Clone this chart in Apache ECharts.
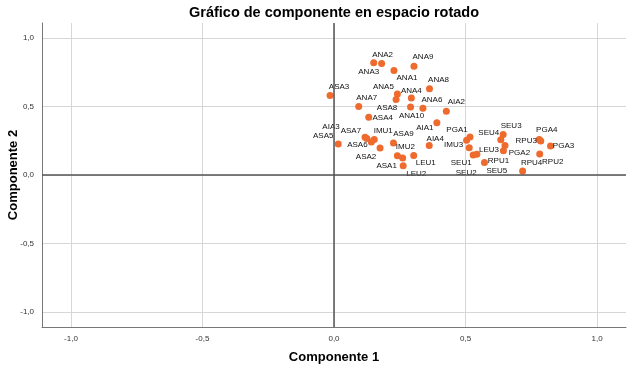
<!DOCTYPE html>
<html>
<head>
<meta charset="utf-8">
<script src="https://cdn.jsdelivr.net/npm/echarts@6/dist/echarts.min.js"></script>
<style>
  html, body { margin: 0; padding: 0; background: #fff; }
  #chart { width: 635px; height: 370px; }
</style>
</head>
<body>
<div id="chart"></div>
<script>
// variables y cargas en los dos componentes rotados
const names = [
  'ANA3', 'ANA2', 'ANA9', 'ANA1', 'ANA8', 'ASA3', 'ANA5', 'ASA8', 'ANA4', 'ANA7',
  'ANA10', 'ANA6', 'AIA2', 'ASA4', 'AIA1',
  'ASA5', 'AIA3', 'ASA7', 'IMU1', 'ASA6', 'ASA2', 'ASA9', 'AIA4', 'IMU2', 'ASA1',
  'LEU1', 'LEU2',
  'PGA1', 'IMU3', 'SEU1', 'SEU2', 'SEU5', 'RPU1', 'SEU3', 'SEU4', 'LEU3', 'PGA2',
  'RPU3', 'PGA4', 'PGA3', 'RPU2', 'RPU4'
];
const comp1 = [
  0.151, 0.181, 0.304, 0.228, 0.363, -0.015, 0.241, 0.236, 0.294, 0.094,
  0.291, 0.338, 0.427, 0.132, 0.391,
  0.016, 0.118, 0.125, 0.153, 0.142, 0.175, 0.226, 0.362, 0.241, 0.261,
  0.303, 0.263,
  0.517, 0.504, 0.514, 0.529, 0.543, 0.572, 0.643, 0.634, 0.650, 0.644,
  0.780, 0.786, 0.823, 0.782, 0.717
];
const comp2 = [
  0.819, 0.814, 0.795, 0.764, 0.629, 0.580, 0.592, 0.551, 0.562, 0.501,
  0.496, 0.488, 0.466, 0.422, 0.382,
  0.227, 0.275, 0.266, 0.259, 0.241, 0.198, 0.233, 0.215, 0.140, 0.125,
  0.143, 0.067,
  0.278, 0.254, 0.199, 0.146, 0.152, 0.092, 0.295, 0.257, 0.215, 0.178,
  0.259, 0.249, 0.212, 0.154, 0.029
];
const tickValues = [-1.0, -0.5, 0.0, 0.5, 1.0];
const tickLabels = ['-1,0', '-0,5', '0,0', '0,5', '1,0'];

// desplazamiento de cada etiqueta respecto a su punto (px)
const labelOffsets = [
  [-5, 9], [1, -9], [9, -9], [13, 7], [9, -9], [9, -9], [-14, -7], [-9, 8], [0, -7], [8, -9],
  [1, 9], [9, -8], [10, -9], [14, 1], [-12, 5],
  [-15, -8], [-34, -11], [-16, -8], [9, -9], [-14, 3], [-14, 9], [10, -9], [6, -7], [8, -9], [-16, 8],
  [12, 7], [13, 8],
  [-13, -7], [-13, 5], [-8, 15], [-7, 18], [20, 17], [14, -2], [8, -9], [-12, -7], [-16, 4], [16, 2],
  [-13, 1], [6, -11], [13, 0], [13, 8], [9, -8]
];

const tickText = v => {
  const i = tickValues.findIndex(t => Math.abs(t - v) < 1e-6);
  return i >= 0 ? tickLabels[i] : '';
};

const font = '"Liberation Sans", Arial, sans-serif';
const chart = echarts.init(document.getElementById('chart'));

const points = names.map((n, i) => ({
  name: n,
  value: [comp1[i], comp2[i]],
  label: { offset: labelOffsets[i] }
}));

const axisCommon = {
  type: 'value',
  min: -1.11,
  max: 1.11,
  splitNumber: 5,
  nameLocation: 'middle',
  nameMoveOverlap: false,
  nameTextStyle: { color: '#000', fontSize: 13, fontWeight: 'bold', fontFamily: font },
  axisLine: { show: true, onZero: false, lineStyle: { color: '#777', width: 1 } },
  axisTick: { show: false },
  axisLabel: {
    color: '#333', fontSize: 8, fontFamily: font, margin: 8,
    showMinLabel: false, showMaxLabel: false,
    formatter: tickText
  },
  splitLine: {
    show: true, showMinLine: false, showMaxLine: false,
    lineStyle: { color: '#d6d6d6', width: 1 }
  }
};

chart.setOption({
  animation: false,
  title: {
    text: 'Gráfico de componente en espacio rotado',
    left: 334,
    textAlign: 'center',
    top: 5,
    padding: 0,
    textStyle: { color: '#000', fontSize: 14.5, fontWeight: 'bold', fontFamily: font }
  },
  grid: { left: 42, right: 9, top: 23, bottom: 43, containLabel: false, outerBoundsMode: 'none' },
  xAxis: Object.assign({}, axisCommon, { name: 'Componente 1', nameGap: 24 }),
  yAxis: Object.assign({}, axisCommon, { name: 'Componente 2', nameGap: 22 }),
  series: [
    {
      type: 'line',
      data: [],
      z: 1,
      markLine: {
        silent: true,
        symbol: 'none',
        label: { show: false },
        lineStyle: { color: '#555', width: 1.5, type: 'solid' },
        data: [{ xAxis: 0 }, { yAxis: 0 }]
      }
    },
    {
      type: 'scatter',
      z: 3,
      symbolSize: 7,
      itemStyle: { color: '#ee6a2d', opacity: 1 },
      label: {
        show: true,
        position: 'inside',
        formatter: p => p.name,
        color: '#111',
        fontSize: 8,
        fontFamily: font
      },
      data: points
    }
  ]
});
</script>
</body>
</html>
